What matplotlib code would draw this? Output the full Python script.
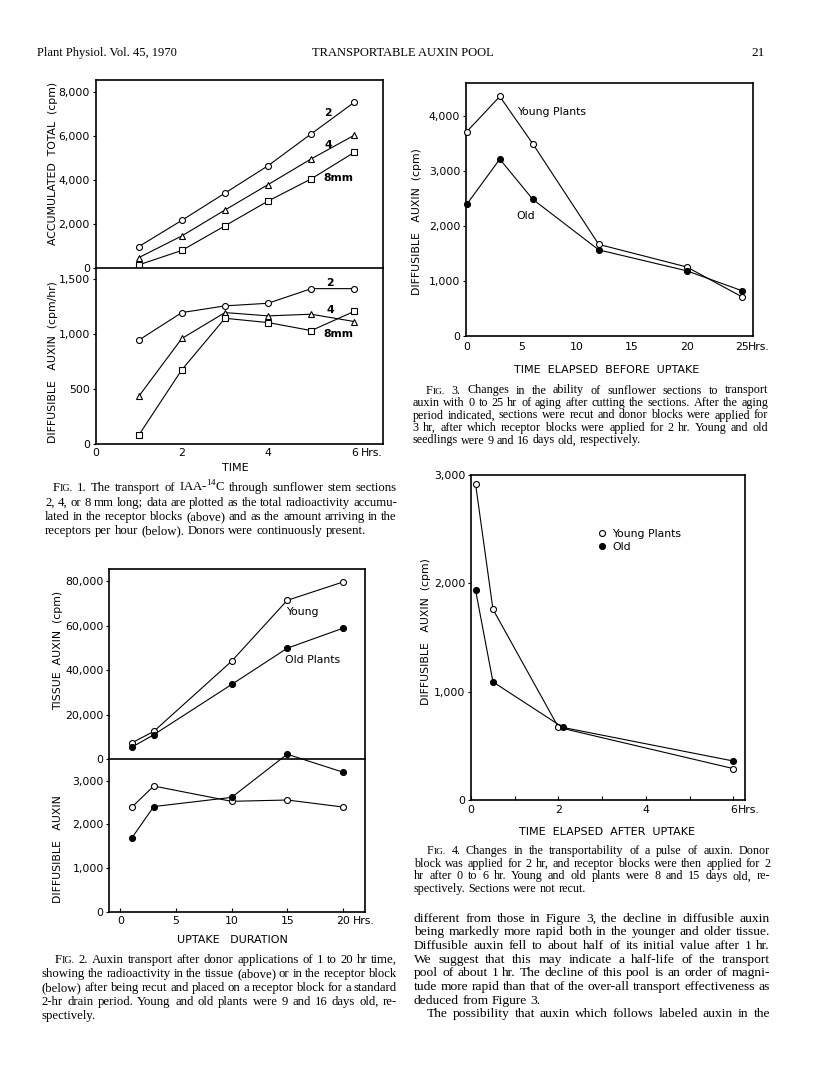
import matplotlib
matplotlib.use('Agg')
import matplotlib.pyplot as plt
from matplotlib.lines import Line2D

W, H = 816, 1078
SANS = 'DejaVu Sans'
SERIF = 'Liberation Serif'
plt.rcParams['font.family'] = SANS
plt.rcParams['mathtext.fontset'] = 'custom'
plt.rcParams['mathtext.rm'] = SERIF

# ---- Fig. 1: transport through 2, 4, 8 mm sections ----
f1_x = [1, 2, 3, 4, 5, 6]
f1_total_2mm = [970, 2170, 3410, 4660, 6110, 7550]
f1_total_4mm = [470, 1460, 2640, 3800, 4970, 6050]
f1_total_8mm = [140, 800, 1920, 3050, 4060, 5270]
f1_rate_2mm = [945, 1197, 1258, 1282, 1415, 1415]
f1_rate_4mm = [433, 961, 1197, 1167, 1182, 1115]
f1_rate_8mm = [79, 676, 1145, 1106, 1033, 1209]

# ---- Fig. 2: uptake duration ----
f2_x = [1, 3, 10, 15, 20]
f2_tissue_young = [7190, 12430, 44040, 71460, 79700]
f2_tissue_old = [5240, 10940, 33560, 49890, 58880]
f2_diff_young = [2390, 2880, 2530, 2560, 2400]
f2_diff_old = [1680, 2410, 2620, 3610, 3200]

# ---- Fig. 3: time elapsed before uptake ----
f3_x = [0, 3, 6, 12, 20, 25]
f3_young = [3710, 4350, 3490, 1660, 1250, 710]
f3_old = [2390, 3210, 2480, 1560, 1180, 820]

# ---- Fig. 4: time elapsed after uptake ----
f4_x_young = [0.1, 0.5, 2.0, 6.0]
f4_x_old = [0.1, 0.5, 2.1, 6.0]
f4_young = [2920, 1760, 670, 290]
f4_old = [1940, 1090, 670, 360]

fig = plt.figure(figsize=(W / 100, H / 100), dpi=100)
renderer = fig.canvas.get_renderer()
TICK = 7.8


def add_ax(l, t, r, b):
    return fig.add_axes([l / W, 1 - b / H, (r - l) / W, (b - t) / H])


def style(ax, xlim, ylim, yticks, ylabels):
    ax.set_xlim(*xlim)
    ax.set_ylim(*ylim)
    for s in ax.spines.values():
        s.set_linewidth(1.2)
    ax.set_yticks(yticks)
    ax.set_yticklabels(ylabels)
    ax.tick_params(axis='y', direction='out', length=2.5, width=0.8, pad=1.5, labelsize=TICK)
    ax.tick_params(axis='x', direction='in', length=3, width=0.8, labelsize=TICK)


def xaxis(ax, ticks, labels, pad, hrs_dx, minor=None, ticklen=3):
    ax.set_xticks(ticks)
    ax.set_xticklabels(labels)
    if minor is not None:
        ax.set_xticks(minor, minor=True)
        ax.tick_params(axis='x', which='minor', direction='in', length=ticklen, width=0.8)
    ax.tick_params(axis='x', pad=pad, length=ticklen)
    plt.setp(ax.get_xticklabels(), va='center')
    ax.annotate('Hrs.', xy=(ticks[-1], 0), xycoords=ax.get_xaxis_transform(),
                xytext=(hrs_dx, -pad), textcoords='offset points',
                ha='left', va='center', fontsize=TICK)


def series(ax, x, y, marker, filled=False):
    ax.plot(x, y, '-', color='black', lw=0.8, marker=marker, ms=4.3,
            mfc='black' if filled else 'white', mec='black', mew=0.8,
            clip_on=False, zorder=3)


def ftext(x, y, s, size=7.8, **kw):
    fig.text(x / W, 1 - y / H, s, fontsize=size, ha='center', va='center', **kw)


def ylabel(x, y, s):
    ftext(x, y, s, rotation=90)


# ---------------- Fig. 1 ----------------
a1 = add_ax(95.5, 80, 382.5, 268)
b1 = add_ax(95.5, 268, 382.5, 444)
style(a1, (0, 6.65), (0, 8560), [0, 2000, 4000, 6000, 8000],
      ['0', '2,000', '4,000', '6,000', '8,000'])
style(b1, (0, 6.65), (0, 1603), [0, 500, 1000, 1500], ['0', '500', '1,000', '1,500'])
a1.spines['bottom'].set_visible(False)
a1.tick_params(axis='x', bottom=False, labelbottom=False)
xaxis(b1, [0, 2, 4, 6], ['0', '2', '4', '6'], 6.2, 4.3, ticklen=0)
series(a1, f1_x, f1_total_2mm, 'o')
series(a1, f1_x, f1_total_4mm, '^')
series(a1, f1_x, f1_total_8mm, 's')
series(b1, f1_x, f1_rate_2mm, 'o')
series(b1, f1_x, f1_rate_4mm, '^')
series(b1, f1_x, f1_rate_8mm, 's')
ftext(328, 113, '2', weight='bold')
ftext(328, 145, '4', weight='bold')
ftext(338, 178, '8mm', weight='bold')
ftext(330, 283, '2', weight='bold')
ftext(330, 310, '4', weight='bold')
ftext(338, 334, '8mm', weight='bold')
ylabel(53, 163, 'ACCUMULATED  TOTAL  (cpm)')
ylabel(53, 362, 'DIFFUSIBLE   AUXIN  (cpm/hr)')
ftext(235, 468, 'TIME', size=8)

# ---------------- Fig. 2 ----------------
a2 = add_ax(109.3, 569.3, 365, 759)
b2 = add_ax(109.3, 759, 365, 911.7)
style(a2, (-1, 22), (0, 85450), [0, 20000, 40000, 60000, 80000],
      ['0', '20,000', '40,000', '60,000', '80,000'])
style(b2, (-1, 22), (0, 3500), [0, 1000, 2000, 3000], ['0', '1,000', '2,000', '3,000'])
a2.spines['bottom'].set_visible(False)
a2.tick_params(axis='x', bottom=False, labelbottom=False)
xaxis(b2, [0, 5, 10, 15, 20], ['0', '5', '10', '15', '20'], 6.7, 7.0)
series(a2, f2_x, f2_tissue_young, 'o')
series(a2, f2_x, f2_tissue_old, 'o', filled=True)
series(b2, f2_x, f2_diff_young, 'o')
series(b2, f2_x, f2_diff_old, 'o', filled=True)
ftext(302, 612, 'Young')
ftext(313, 660, 'Old Plants')
ylabel(58, 650, 'TISSUE  AUXIN  (cpm)')
ylabel(58, 849, 'DIFFUSIBLE   AUXIN')
ftext(232, 940, 'UPTAKE   DURATION', size=8)

# ---------------- Fig. 3 ----------------
a3 = add_ax(465.7, 82.7, 752.7, 335.7)
style(a3, (-0.1, 26), (0, 4600), [0, 1000, 2000, 3000, 4000],
      ['0', '1,000', '2,000', '3,000', '4,000'])
xaxis(a3, [0, 5, 10, 15, 20, 25], ['0', '5', '10', '15', '20', '25'], 7.9, 4.1, ticklen=0)
series(a3, f3_x, f3_young, 'o')
series(a3, f3_x, f3_old, 'o', filled=True)
ftext(552, 112, 'Young Plants')
ftext(526, 216, 'Old')
ylabel(417, 222, 'DIFFUSIBLE   AUXIN  (cpm)')
ftext(607, 370, 'TIME  ELAPSED  BEFORE  UPTAKE', size=8)

# ---------------- Fig. 4 ----------------
a4 = add_ax(470.7, 475, 745, 800)
style(a4, (-0.01, 6.27), (0, 3000), [0, 1000, 2000, 3000], ['0', '1,000', '2,000', '3,000'])
xaxis(a4, [0, 2, 4, 6], ['0', '2', '4', '6'], 7.2, 3.4, minor=[1, 3, 5])
series(a4, f4_x_young, f4_young, 'o')
series(a4, f4_x_old, f4_old, 'o', filled=True)
handles = [Line2D([], [], ls='none', marker='o', ms=4.3, mfc='white', mec='black', mew=0.8),
           Line2D([], [], ls='none', marker='o', ms=4.3, mfc='black', mec='black', mew=0.8)]
a4.legend(handles, ['Young Plants', 'Old'], loc='upper left', frameon=False,
          bbox_to_anchor=(597 / W, 1 - 529 / H), bbox_transform=fig.transFigure,
          fontsize=TICK, handlelength=1.0, handletextpad=0.4, borderpad=0,
          borderaxespad=0, labelspacing=0.3)
ylabel(426, 632, 'DIFFUSIBLE   AUXIN  (cpm)')
ftext(607, 832, 'TIME  ELAPSED  AFTER  UPTAKE', size=8)


# ---------------- page text ----------------
def make_word(word, size):
    parts = [('F', size), (word[1:], size * 0.78)] if word.startswith('FIG.') else [(word, size)]
    texts = [fig.text(0, 0, s, fontsize=fs, family=SERIF, va='baseline', ha='left')
             for s, fs in parts]
    return texts, [t.get_window_extent(renderer).width for t in texts]


def place_line(line, left, right, base, size, justify):
    words = [make_word(w, size) for w in line.split()]
    total = sum(sum(ws) for _, ws in words)
    gap = size * 0.25 * 100 / 72
    if justify and len(words) > 1:
        gap = max((right - left - total) / (len(words) - 1), 1.5)
    x = left
    for texts, ws in words:
        for t, w in zip(texts, ws):
            t.set_position((x / W, 1 - base / H))
            x += w
        x += gap


def paragraph(lines, x0, x1, y0, dy, size, indent, ragged=(), indented=(0,)):
    for i, line in enumerate(lines):
        left = x0 + (indent if i in indented else 0)
        place_line(line, left, x1, y0 + i * dy, size, i not in ragged)


cap1 = ["FIG. 1. The transport of IAA-$^{14}$C through sunflower stem sections",
        "2, 4, or 8 mm long; data are plotted as the total radioactivity accumu-",
        "lated in the receptor blocks (above) and as the amount arriving in the",
        "receptors per hour (below). Donors were continuously present."]
cap2 = ["FIG. 2. Auxin transport after donor applications of 1 to 20 hr time,",
        "showing the radioactivity in the tissue (above) or in the receptor block",
        "(below) after being recut and placed on a receptor block for a standard",
        "2-hr drain period. Young and old plants were 9 and 16 days old, re-",
        "spectively."]
cap3 = ["FIG. 3. Changes in the ability of sunflower sections to transport",
        "auxin with 0 to 25 hr of aging after cutting the sections. After the aging",
        "period indicated, sections were recut and donor blocks were applied for",
        "3 hr, after which receptor blocks were applied for 2 hr. Young and old",
        "seedlings were 9 and 16 days old, respectively."]
cap4 = ["FIG. 4. Changes in the transportability of a pulse of auxin. Donor",
        "block was applied for 2 hr, and receptor blocks were then applied for 2",
        "hr after 0 to 6 hr. Young and old plants were 8 and 15 days old, re-",
        "spectively. Sections were not recut."]
body = ["different from those in Figure 3, the decline in diffusible auxin",
        "being markedly more rapid both in the younger and older tissue.",
        "Diffusible auxin fell to about half of its initial value after 1 hr.",
        "We suggest that this may indicate a half-life of the transport",
        "pool of about 1 hr. The decline of this pool is an order of magni-",
        "tude more rapid than that of the over-all transport effectiveness as",
        "deduced from Figure 3.",
        "The possibility that auxin which follows labeled auxin in the"]

paragraph(cap1, 45, 397, 491.5, 14.3, 9.2, 8, ragged=(3,))
paragraph(cap2, 41.7, 397, 962.8, 14.0, 9.2, 13.3, ragged=(4,))
paragraph(cap3, 412.7, 768.3, 393.5, 12.5, 8.75, 13.3, ragged=(4,))
paragraph(cap4, 414, 770, 854.2, 12.55, 8.75, 12.7, ragged=(3,))
paragraph(body, 414, 770, 921.8, 13.67, 9.7, 12.7, ragged=(6,), indented=(7,))

fig.text(37 / W, 1 - 56 / H, 'Plant Physiol. Vol. 45, 1970', family=SERIF, fontsize=9,
         ha='left', va='baseline')
fig.text(403 / W, 1 - 56 / H, 'TRANSPORTABLE AUXIN POOL', family=SERIF, fontsize=9,
         ha='center', va='baseline')
fig.text(758 / W, 1 - 56 / H, '21', family=SERIF, fontsize=9.5, ha='center', va='baseline')

fig.savefig('out.png', dpi=100)
